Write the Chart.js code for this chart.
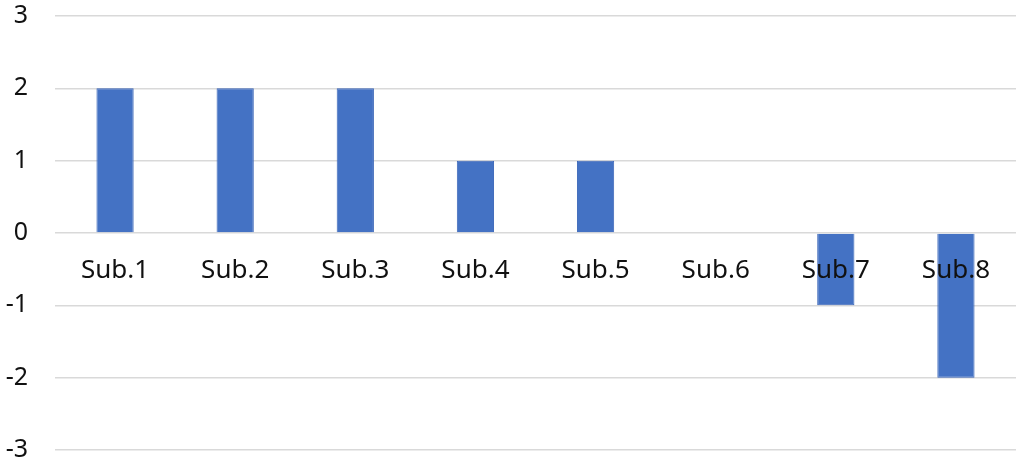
<!DOCTYPE html>
<html>
<head>
<meta charset="utf-8">
<script src="https://cdn.jsdelivr.net/npm/chart.js@4/dist/chart.umd.min.js"></script>
<style>
html,body{margin:0;padding:0;background:#fff;}
#wrap{width:1021px;height:462px;position:relative;}
</style>
</head>
<body>
<div id="wrap"><canvas id="c" width="1021" height="462"></canvas></div>
<script>
const categories = ["Sub.1","Sub.2","Sub.3","Sub.4","Sub.5","Sub.6","Sub.7","Sub.8"];
const values = [2, 2, 2, 1, 1, 0, -1, -2];
const yTicks = [-3, -2, -1, 0, 1, 2, 3];

const FONT = "'Noto Sans', 'Noto Sans CJK JP', sans-serif";

new Chart(document.getElementById('c'), {
  type: 'bar',
  data: {
    labels: categories,
    datasets: [{
      data: values,
      backgroundColor: '#4472C4',
      borderColor: '#3B66B8',
      borderWidth: 1,
      categoryPercentage: 1,
      barPercentage: 0.31
    }]
  },
  options: {
    responsive: false,
    animation: false,
    layout: { padding: { top: 16, bottom: 12, right: 5, left: 0 } },
    plugins: { legend: { display: false }, tooltip: { enabled: false } },
    scales: {
      x: {
        position: { y: 0 },
        afterFit: (s) => { s.height = 0; s.paddingLeft = 0; s.paddingRight = 0; s.paddingTop = 0; s.paddingBottom = 0; },
        grid: { display: false, drawTicks: false },
        border: { display: false },
        ticks: {
          z: 1,
          padding: 22,
          color: '#111',
          font: { family: FONT, size: 26 },
          maxRotation: 0,
          autoSkip: false
        }
      },
      y: {
        min: yTicks[0],
        max: yTicks[yTicks.length - 1],
        afterBuildTicks: (s) => { s.ticks = yTicks.map(v => ({ value: v })); },
        afterFit: (s) => { s.width = 55; s.paddingTop = 0; s.paddingBottom = 0; },
        grid: { color: '#d9d9d9', lineWidth: 1.5, drawTicks: false },
        border: { display: false },
        ticks: {
          padding: 27,
          color: '#111',
          font: { family: FONT, size: 25 }
        }
      }
    }
  }
});
</script>
</body>
</html>
